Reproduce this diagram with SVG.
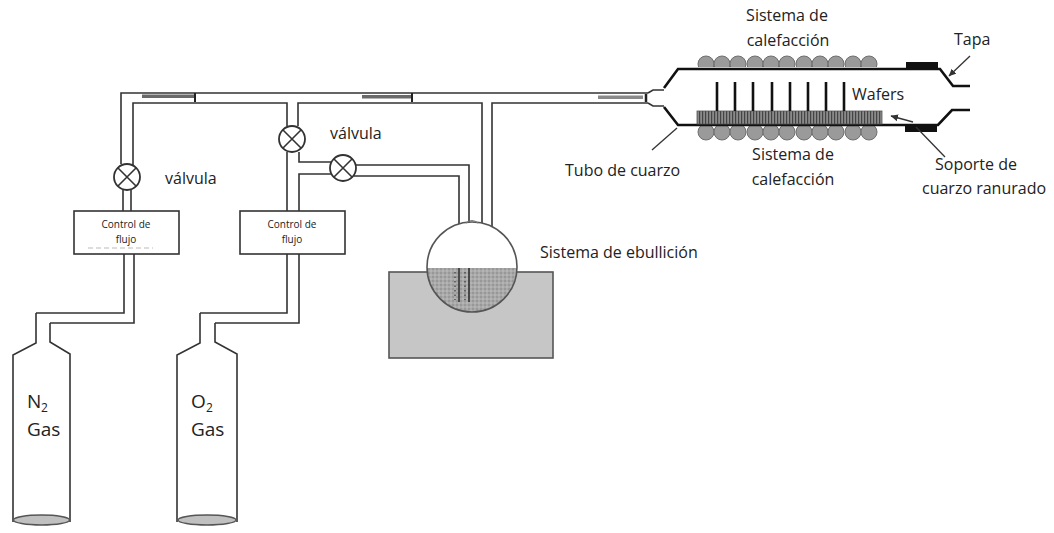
<svg xmlns="http://www.w3.org/2000/svg" width="1054" height="533" viewBox="0 0 1054 533">
  <defs>
    <style>
      .pipe { fill: none; stroke: #333; stroke-width: 1.6; stroke-linejoin: miter; }
      .valve { fill: #fff; stroke: #333; stroke-width: 1.8; }
      .box { fill: #fff; stroke: #333; stroke-width: 1.6; }
      .lbl { font-family: "Open Sans", "Noto Sans", sans-serif; font-size: 16px; fill: #222; }
      .small { font-family: "Open Sans", "Noto Sans", sans-serif; font-size: 10px; fill: #222; text-anchor: middle; }
      .gas { font-family: "Open Sans", "Noto Sans", sans-serif; font-size: 19px; fill: #222; }
      .sub { font-family: "Open Sans", "Noto Sans", sans-serif; font-size: 12px; fill: #222; }
      .coil { fill: #9a9a9a; stroke: #6e6e6e; stroke-width: 1; }
      .wall { fill: none; stroke: #111; stroke-width: 2.6; }
      .lead { fill: none; stroke: #333; stroke-width: 1.3; }
    </style>
    <symbol id="valveSym" viewBox="-14 -14 28 28" overflow="visible">
      <circle class="valve" cx="0" cy="0" r="13"/>
      <path d="M-9,-9 L9,9 M9,-9 L-9,9" stroke="#333" stroke-width="1.6"/>
    </symbol>
    <pattern id="dots" width="4" height="4" patternUnits="userSpaceOnUse">
      <rect width="4" height="4" fill="#a9a9a9"/>
      <circle cx="1" cy="1" r="0.7" fill="#7a7a7a"/>
      <circle cx="3" cy="3" r="0.7" fill="#c8c8c8"/>
    </pattern>
    <pattern id="slots" width="3" height="14" patternUnits="userSpaceOnUse">
      <rect width="3" height="14" fill="#8a8a8a"/>
      <rect width="1.2" height="14" fill="#444"/>
    </pattern>
    <clipPath id="flaskClip"><circle cx="472" cy="267" r="45"/></clipPath>
    <clipPath id="aboveTop"><rect x="680" y="40" width="220" height="27"/></clipPath>
    <clipPath id="belowBottom"><rect x="680" y="126" width="220" height="30"/></clipPath>
    <marker id="arrow" markerWidth="8" markerHeight="8" refX="7" refY="4" orient="auto" markerUnits="userSpaceOnUse">
      <path d="M0,0.5 L7.5,4 L0,7.5 Z" fill="#333"/>
    </marker>
  </defs>

  <rect width="1054" height="533" fill="#fff"/>

  <!-- gas lines -->
  <g id="connectors">
    <!-- main header pipe -->
    <path class="pipe" d="M121,164 L121,93 L648,93"/>
    <path class="pipe" d="M133,165 L133,103 L287,103 L287,126"/>
    <path class="pipe" d="M298,126 L298,103 L482,103 L482,237"/>
    <path class="pipe" d="M492,237 L492,103 L648,103"/>
    <!-- shaded spots inside header -->
    <rect x="142" y="94.5" width="53" height="3.5" fill="#6a6a6a"/>
    <rect x="194" y="93" width="2" height="9" fill="#222"/>
    <rect x="362" y="95" width="50" height="3.5" fill="#6a6a6a"/>
    <rect x="411" y="93" width="2" height="9" fill="#222"/>
    <rect x="598" y="95.5" width="45" height="3.5" fill="#8a8a8a"/>

    <!-- N2 branch: valve to flow control, flow control to cylinder -->
    <path class="pipe" d="M123,190 L123,211 M131,190 L131,211"/>
    <path class="pipe" d="M124,254 L124,313 L36,313"/>
    <path class="pipe" d="M134,254 L134,323 L50,323"/>

    <!-- O2 branch -->
    <path class="pipe" d="M287,152 L287,211"/>
    <path class="pipe" d="M299,152 L299,162 L331,162"/>
    <path class="pipe" d="M299,211 L299,174 L331,174"/>
    <path class="pipe" d="M287,254 L287,313 L200,313" stroke-width="2.2"/>
    <path class="pipe" d="M299,254 L299,323 L215,323"/>

    <!-- O2 bubbler feed -->
    <path class="pipe" d="M355,165 L469,165 L469,302"/>
    <path class="pipe" d="M354,176 L459,176 L459,302"/>
  </g>

  <!-- valves -->
  <g id="valve-n2"><use href="#valveSym" x="113" y="163" width="28" height="28"/></g>
  <g id="valve-o2"><use href="#valveSym" x="278" y="125" width="28" height="28"/></g>
  <g id="valve-bubbler"><use href="#valveSym" x="329" y="154" width="28" height="28"/></g>
  <text class="lbl" x="165" y="184">válvula</text>
  <text class="lbl" x="330" y="139">válvula</text>

  <!-- flow controllers -->
  <g id="flow-n2">
    <rect class="box" x="74" y="211" width="105" height="43"/>
    <text class="small" x="126" y="228">Control de</text>
    <text class="small" x="126" y="243">flujo</text>
    <path d="M88,248 L153,248" stroke="#bbb" stroke-width="1" stroke-dasharray="5,3"/>
  </g>
  <g id="flow-o2">
    <rect class="box" x="240" y="211" width="105" height="43"/>
    <text class="small" x="292" y="228">Control de</text>
    <text class="small" x="292" y="243">flujo</text>
  </g>

  <!-- gas cylinders -->
  <g id="cylinder-n2">
    <path class="pipe" d="M36,313 L36,343 L13,355 L13,522"/>
    <path class="pipe" d="M50,323 L50,342 L70,354 L70,522"/>
    <ellipse cx="41.5" cy="520" rx="28" ry="5" fill="#c0c0c0" stroke="#555" stroke-width="1.4"/>
    <text class="gas" x="27" y="408">N</text>
    <text class="sub" x="41" y="412">2</text>
    <text class="gas" x="27" y="436">Gas</text>
  </g>
  <g id="cylinder-o2">
    <path class="pipe" d="M200,313 L200,343 L177,355 L177,522"/>
    <path class="pipe" d="M215,323 L215,342 L237,354 L237,522"/>
    <ellipse cx="207" cy="520" rx="29" ry="5" fill="#c0c0c0" stroke="#555" stroke-width="1.4"/>
    <text class="gas" x="191" y="408">O</text>
    <text class="sub" x="206" y="412">2</text>
    <text class="gas" x="191" y="436">Gas</text>
  </g>

  <!-- boiling system -->
  <g id="boiler">
    <rect x="389" y="272" width="164" height="86" fill="#c6c6c6" stroke="#555" stroke-width="1.6"/>
    <circle cx="472" cy="267" r="45" fill="#fff"/>
    <rect x="420" y="268" width="110" height="50" fill="url(#dots)" clip-path="url(#flaskClip)"/>
    <circle cx="472" cy="267" r="45" fill="none" stroke="#555" stroke-width="1.6"/>
    <path d="M466,223 Q472,218 478,223" fill="none" stroke="#777" stroke-width="1.2"/>
    <!-- tubes dipping into the liquid -->
    <path class="pipe" d="M459,268 L459,302 M469,268 L469,302"/>
    <path d="M455,272 L455,300 M465,272 L465,300" stroke="#555" stroke-width="1.6" stroke-dasharray="1.5,3"/>
    <text class="lbl" x="540" y="258">Sistema de ebullición</text>
  </g>

  <!-- diffusion furnace -->
  <g id="furnace">
    <!-- heater coils -->
    <g clip-path="url(#aboveTop)">
      <circle class="coil" cx="706" cy="64" r="8"/><circle class="coil" cx="722" cy="64" r="8"/>
      <circle class="coil" cx="738" cy="64" r="8"/><circle class="coil" cx="755" cy="64" r="8"/>
      <circle class="coil" cx="771" cy="64" r="8"/><circle class="coil" cx="787" cy="64" r="8"/>
      <circle class="coil" cx="804" cy="64" r="8"/><circle class="coil" cx="820" cy="64" r="8"/>
      <circle class="coil" cx="836" cy="64" r="8"/><circle class="coil" cx="853" cy="64" r="8"/>
      <circle class="coil" cx="869" cy="64" r="8"/>
    </g>
    <g clip-path="url(#belowBottom)">
      <circle class="coil" cx="706" cy="132" r="8"/><circle class="coil" cx="722" cy="132" r="8"/>
      <circle class="coil" cx="738" cy="132" r="8"/><circle class="coil" cx="755" cy="132" r="8"/>
      <circle class="coil" cx="771" cy="132" r="8"/><circle class="coil" cx="787" cy="132" r="8"/>
      <circle class="coil" cx="804" cy="132" r="8"/><circle class="coil" cx="820" cy="132" r="8"/>
      <circle class="coil" cx="836" cy="132" r="8"/><circle class="coil" cx="853" cy="132" r="8"/>
      <circle class="coil" cx="869" cy="132" r="8"/>
    </g>
    <!-- quartz tube walls -->
    <path class="pipe" d="M648,93 L653,90 L664,90"/>
    <path class="pipe" d="M648,103 L653,106 L664,106"/>
    <path d="M646,94 L646,102" stroke="#222" stroke-width="2.5"/>
    <path class="wall" d="M664,88 L678,69 L940,69 L953,86 L970,86"/>
    <path class="wall" d="M664,107 L678,125 L938,125 L952,110 L970,110"/>
    <!-- cap blocks -->
    <rect x="906" y="62" width="32" height="6" fill="#111"/>
    <rect x="905" y="126" width="32" height="6" fill="#111"/>
    <!-- slotted boat and wafers -->
    <rect x="697" y="111" width="185" height="13" fill="url(#slots)" stroke="#555" stroke-width="0.8"/>
    <g stroke="#111" stroke-width="2.6">
      <path d="M717,82 L717,111 M735,82 L735,111 M753,82 L753,111 M772,82 L772,111"/>
      <path d="M790,82 L790,111 M808,82 L808,111 M826,82 L826,111 M844,82 L844,111"/>
    </g>
    <text class="lbl" x="852" y="100" fill="#555" font-size="15">Wafers</text>
  </g>

  <!-- labels and leaders -->
  <g id="labels">
    <text class="lbl" x="787" y="21" text-anchor="middle">Sistema de</text>
    <text class="lbl" x="788" y="46" text-anchor="middle">calefacción</text>
    <text class="lbl" x="954" y="45">Tapa</text>
    <path class="lead" d="M970,56 L949,76" marker-end="url(#arrow)"/>
    <text class="lbl" x="565" y="176">Tubo de cuarzo</text>
    <path class="lead" d="M652,150 L677,128"/>
    <text class="lbl" x="793" y="160" text-anchor="middle">Sistema de</text>
    <text class="lbl" x="793" y="185" text-anchor="middle">calefacción</text>
    <text class="lbl" x="935" y="170">Soporte de</text>
    <text class="lbl" x="922" y="194">cuarzo ranurado</text>
    <path class="lead" d="M945,157 L916,127"/>
    <path class="lead" d="M913,122 L891,116" marker-end="url(#arrow)"/>
  </g>
</svg>
